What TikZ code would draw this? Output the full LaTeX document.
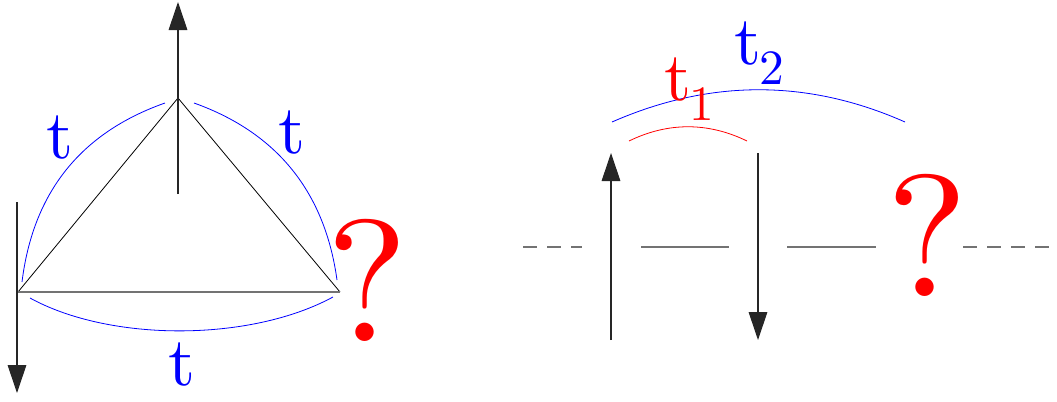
\documentclass[tikz,border=0pt]{standalone}
\usetikzlibrary{arrows.meta}
\font\lblfont=cmr10 at 52pt
\font\subfont=cmr10 at 37pt
\font\qfont=cmr10 at 130pt
\begin{document}
\begin{tikzpicture}[x=0.75pt,y=-0.75pt,
  edge/.style={black,line width=0.6pt},
  baseline/.style={gray!90!black,line width=0.9pt},
  spin/.style={black!85,line width=0.8pt,-{Triangle[length=21pt,width=14pt]}},
  hop/.style={line width=0.6pt},
  lbl/.style={inner sep=0pt,anchor=base,font=\lblfont},
  qmark/.style={inner sep=0pt,anchor=base,red,font=\qfont}]
\useasboundingbox (0,0) rectangle (1057,401);
% left: triangle
\coordinate (T) at (178,98);
\coordinate (L) at (18,292);
\coordinate (R) at (340,292);
\coordinate (Tup) at (178,194);
\coordinate (Ttip) at (178,2);
\coordinate (Ltop) at (17,202);
\coordinate (Ltip) at (17,393);
\draw[edge] (L) -- (T) -- (R);
\draw[baseline] (L) -- (R);
\draw[spin] (Tup) -- (Ttip);
\draw[spin] (Ltop) -- (Ltip);
% blue arcs
\coordinate (a1) at (22,282); \coordinate (a2) at (165,103);
\coordinate (b1) at (194,103); \coordinate (b2) at (337,280);
\coordinate (c1) at (30,298); \coordinate (c2) at (333,297);
\draw[hop,blue] (a1) .. controls (33,193) and (80,133) .. (a2);
\draw[hop,blue] (b1) .. controls (278,133) and (325,193) .. (b2);
\draw[hop,blue] (c1) .. controls (110,342) and (250,342) .. (c2);
\node[lbl,blue] (tl) at (60,158) {t};
\node[lbl,blue] (tr) at (292,153) {t};
\node[lbl,blue] (tb) at (182,385) {t};
\node[qmark] (q1) at (367,341) {?};
% right: chain
\coordinate (h0) at (523,247); \coordinate (h1) at (582,247);
\coordinate (h2) at (641,247); \coordinate (h3) at (729,247);
\coordinate (h4) at (787,247); \coordinate (h5) at (876,247);
\coordinate (h6) at (963,247); \coordinate (h7) at (1057,247);
\draw[baseline,dash pattern=on 10.5pt off 7.5pt] (h0) -- (h1);
\draw[baseline] (h2) -- (h3);
\draw[baseline] (h4) -- (h5);
\draw[baseline,dash pattern=on 10.5pt off 7.5pt] (h6) -- (h7);
\coordinate (s1b) at (611,340); \coordinate (s1t) at (611,153);
\coordinate (s2t) at (758,153); \coordinate (s2b) at (758,340);
\draw[spin] (s1b) -- (s1t);
\draw[spin] (s2t) -- (s2b);
\coordinate (d1) at (612,122); \coordinate (d2) at (905,122);
\coordinate (e1) at (629,141); \coordinate (e2) at (747,141);
\draw[hop,blue] (d1) .. controls (710,79) and (808,79) .. (d2);
\draw[hop,red] (e1) .. controls (668,122) and (708,122) .. (e2);
\node[lbl,red,anchor=base west] (t1) at (664,100) {t\kern-1pt\raisebox{-15pt}{\subfont 1}};
\node[lbl,blue,anchor=base west] (t2) at (734,64) {t\kern-1pt\raisebox{-15.5pt}{\subfont 2}};
\node[qmark] (q2) at (927,296) {?};
\end{tikzpicture}
\end{document}
